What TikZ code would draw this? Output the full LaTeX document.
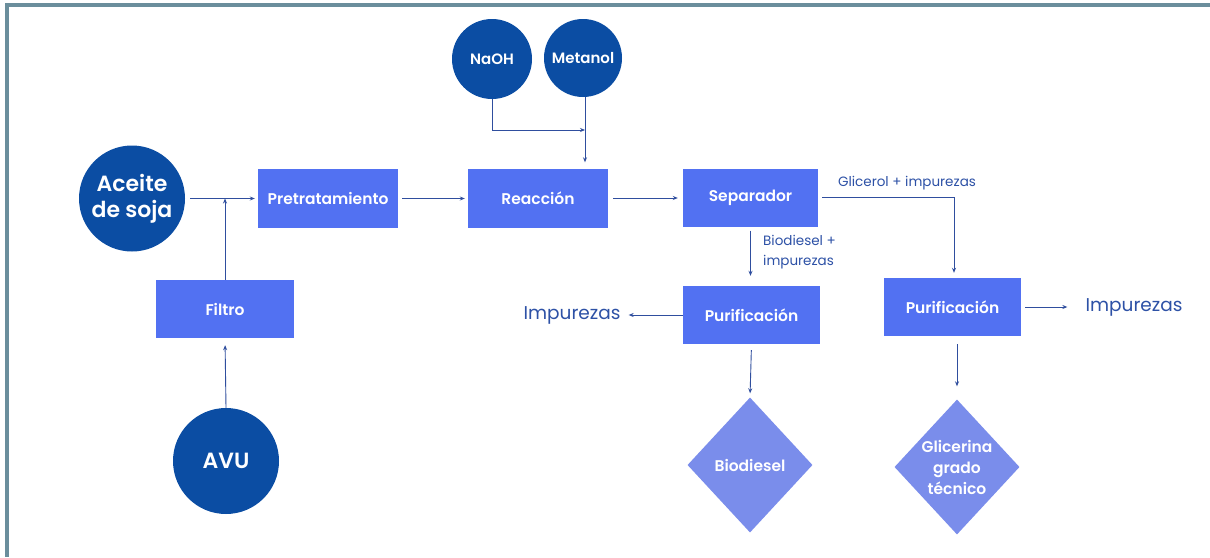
\documentclass[tikz,border=0pt]{standalone}
\usepackage{fontspec}
\setmainfont{Poppins}
\newfontfamily\semib{Poppins SemiBold}
\usetikzlibrary{shapes.geometric,arrows.meta}
\definecolor{circblue}{HTML}{0B4DA3}
\definecolor{boxblue}{HTML}{5271F2}
\definecolor{diablue}{HTML}{7A8DEB}
\definecolor{arrblue}{HTML}{2F4E9E}
\definecolor{txtblue}{HTML}{2D51A6}
\definecolor{framec}{HTML}{6B8E9C}
\begin{document}
\begin{tikzpicture}[x=1pt,y=-1pt,
 circ/.style={circle,fill=circblue,text=white,inner sep=0pt,align=center},
 stepbox/.style={rectangle,fill=boxblue,text=white,inner sep=0pt,font=\semib\fontsize{15.5}{18}\selectfont},
 prod/.style={diamond,fill=diablue,text=white,inner sep=0pt,minimum width=125pt,minimum height=135pt,align=center,font=\semib\fontsize{15.5}{21}\selectfont},
 arr/.style={draw=arrblue,line width=0.9pt,-{Stealth[length=5pt,width=4pt]}},
 lbl/.style={text=txtblue,font=\fontsize{13.5}{20}\selectfont,inner sep=0pt,align=left},
 big/.style={text=txtblue,font=\fontsize{18.5}{22}\selectfont,inner sep=0pt}]
\useasboundingbox (0,0) rectangle (1210,557);
\fill[white] (0,0) rectangle (1210,557);
\fill[framec] (5,3) rectangle (1210,7);
\fill[framec] (5,3) rectangle (9,557);

% circles
\node[circ,minimum size=106pt,font=\semib\fontsize{22}{26}\selectfont] (aceite) at (132,198.5) {Aceite\\de soja};
\node[circ,minimum size=106pt,font=\semib\fontsize{22}{26}\selectfont] (avu) at (226,461) {AVU};
\node[circ,minimum size=80pt,font=\semib\fontsize{15}{18}\selectfont] (naoh) at (492,59) {NaOH};
\node[circ,minimum size=78pt,font=\semib\fontsize{15}{18}\selectfont] (metanol) at (583,58) {Metanol};

% boxes
\node[stepbox,minimum width=140pt,minimum height=59pt] (pret) at (328,198.5) {Pretratamiento};
\node[stepbox,minimum width=138pt,minimum height=58pt] (filtro) at (225,309) {Filtro};
\node[stepbox,minimum width=140pt,minimum height=59pt] (reac) at (538,198) {Reacción};
\node[stepbox,minimum width=135pt,minimum height=58pt] (sep) at (750.5,197.5) {Separador};
\node[stepbox,minimum width=137pt,minimum height=58pt] (pur1) at (751.5,315) {Purificación};
\node[stepbox,minimum width=137pt,minimum height=58pt] (pur2) at (952.5,307) {Purificación};

% products
\node[prod] (bio) at (750,465) {Biodiesel};
\node[prod] (gli) at (957,467) {Glicerina\\grado\\técnico};

% outputs
\node[big] (imp1) at (572,315) {Impurezas};
\node[big] (imp2) at (1134,307) {Impurezas};

% connectors
\coordinate (y130) at (0,130);
\draw[arr,shorten <=5pt,shorten >=3pt] (aceite.east) -- (pret.west);
\draw[arr] (filtro.north) -- (filtro.north |- pret.west);
\draw[arr,shorten >=7pt] (avu.north) -- (filtro.south);
\draw[arr,shorten <=4pt,shorten >=3pt] (pret.east) -- (reac.west |- pret.east);
\draw[arr,shorten <=5pt,shorten >=5pt] (reac.east) -- (sep.west |- reac.east);
\draw[arr] (naoh.south) |- ([xshift=2pt]metanol.south |- y130);
\draw[arr,shorten >=6pt] ([xshift=2pt]metanol.south) -- ([xshift=2pt]metanol.south |- reac.north);
\draw[arr,shorten <=4pt,shorten >=5pt] (sep.east) -| ([xshift=1.5pt]pur2.north);
\draw[arr,shorten <=4pt,shorten >=10pt] (sep.south) -- (sep.south |- pur1.north);
\draw[arr,shorten >=8pt] (pur1.west) -- (imp1.east |- pur1.west);
\draw[arr,shorten <=4pt,shorten >=18pt] (pur2.east) -- (imp2.west |- pur2.east);
\draw[arr,shorten <=6pt,shorten >=4pt] (pur1.south) -- (bio.north);
\draw[arr,shorten <=8pt,shorten >=13pt] ([xshift=4.5pt]pur2.south) -- ([xshift=4.5pt]pur2.south |- gli.north);

% labels
\node[lbl] (glab) at (907,183) {Glicerol + impurezas};
\node[lbl,anchor=west] (blab) at (763,252) {Biodiesel +\\impurezas};
\end{tikzpicture}
\end{document}
